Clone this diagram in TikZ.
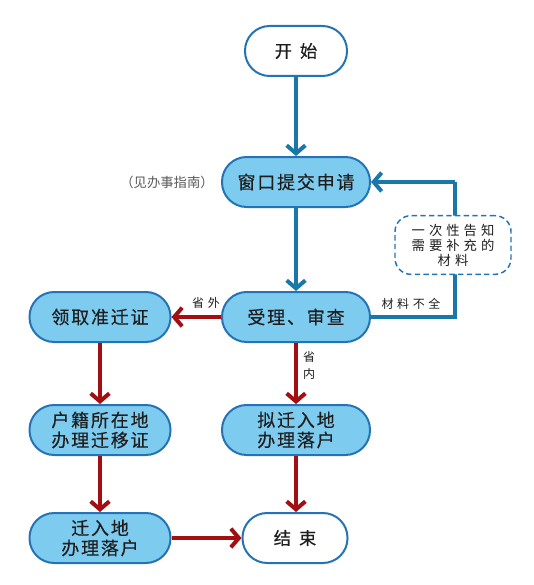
\documentclass[tikz,border=0pt]{standalone}
\usepackage{fontspec}
\usetikzlibrary{arrows.meta}
\newfontfamily\cjk[LetterSpace=10,FakeBold=0.4]{Noto Sans CJK SC}
\newfontfamily\cjksm[LetterSpace=30]{Noto Sans CJK SC}
\newfontfamily\cjkplain{Noto Sans CJK SC}
\newfontfamily\cjkbd[FakeBold=0.4]{Noto Sans CJK SC}
\definecolor{boxfill}{RGB}{126,203,240}
\definecolor{boxline}{RGB}{36,116,181}
\definecolor{bluearr}{RGB}{25,120,168}
\definecolor{redarr}{RGB}{163,14,18}
\definecolor{txt}{RGB}{30,30,30}
\tikzset{
  pill/.style={draw=boxline, line width=1.5pt, fill=boxfill, rounded corners=18.5pt,
    inner sep=0pt, minimum height=37.5pt, text=txt, font=\cjk\fontsize{13.5pt}{15pt}\selectfont, align=center},
  wpill/.style={pill, fill=white},
  note/.style={draw=boxline, line width=1.1pt, dashed, dash pattern=on 4pt off 2.5pt, fill=white,
    rounded corners=12pt, inner sep=0pt, minimum width=87pt, minimum height=44pt, text=txt,
    font=\cjksm\fontsize{10pt}{11.3pt}\selectfont, align=center},
  lbl/.style={text=txt, font=\cjksm\fontsize{9pt}{12.75pt}\selectfont, inner sep=0pt, align=center},
  barr/.style={draw=bluearr, line width=3pt, -{Straight Barb[length=6pt, width=14pt]}},
  bline/.style={draw=bluearr, line width=3pt},
  rarr/.style={draw=redarr, line width=3pt, -{Straight Barb[length=6pt, width=14pt]}},
}
\begin{document}
\begin{tikzpicture}[x=0.75pt, y=-0.75pt]
\useasboundingbox (0,0) rectangle (534,585);
% nodes
\node[wpill, minimum width=76.5pt, font=\cjkbd\fontsize{13pt}{16pt}\selectfont] (start) at (296,51) {开\hspace{6pt}始};
\node[pill, minimum width=111pt] (win) at (296,182) {窗口提交申请};
\node[pill, minimum width=111pt] (acc) at (296,317) {受理、审查};
\node[pill, minimum width=105.75pt] (lq) at (100,317) {领取准迁证};
\node[pill, minimum width=105.75pt] (hj) at (100,430) {户籍所在地\\办理迁移证};
\node[pill, minimum width=111pt] (ny) at (296,430) {拟迁入地\\办理落户};
\node[pill, minimum width=105.75pt] (qr) at (100,538) {迁入地\\办理落户};
\node[wpill, minimum width=78.75pt, font=\cjkbd\fontsize{13pt}{16pt}\selectfont] (end) at (295,538) {结\hspace{6pt}束};
\coordinate (c1) at (455,317);
\coordinate (c2) at (455,182);
% connectors
\draw[barr] (start) -- (win);
\draw[barr] (win) -- (acc);
\draw[bline] (acc.east) -- (c1) -- (c2);
\draw[barr] (c2) -- (win.east);
\node[note] (notice) at (453,245) {一次性告知\\需要补充的\\材料};
\draw[rarr] (acc) -- (lq);
\draw[rarr] (acc) -- (ny);
\draw[rarr] (lq) -- (hj);
\draw[rarr] (hj) -- (qr);
\draw[rarr] (ny.south) -- (ny.south |- end.north);
\draw[rarr] (qr) -- (end);
% labels
\node[lbl] (lguide) at (167,182) {\cjkplain\fontsize{10pt}{12pt}\selectfont\color{black!65}（见办事指南）};
\node[lbl] (lout) at (206,303) {省外};
\node[lbl] (lin) at (309,365) {省\\内};
\node[lbl] (lmiss) at (411,304) {材料不全};
\end{tikzpicture}
\end{document}
